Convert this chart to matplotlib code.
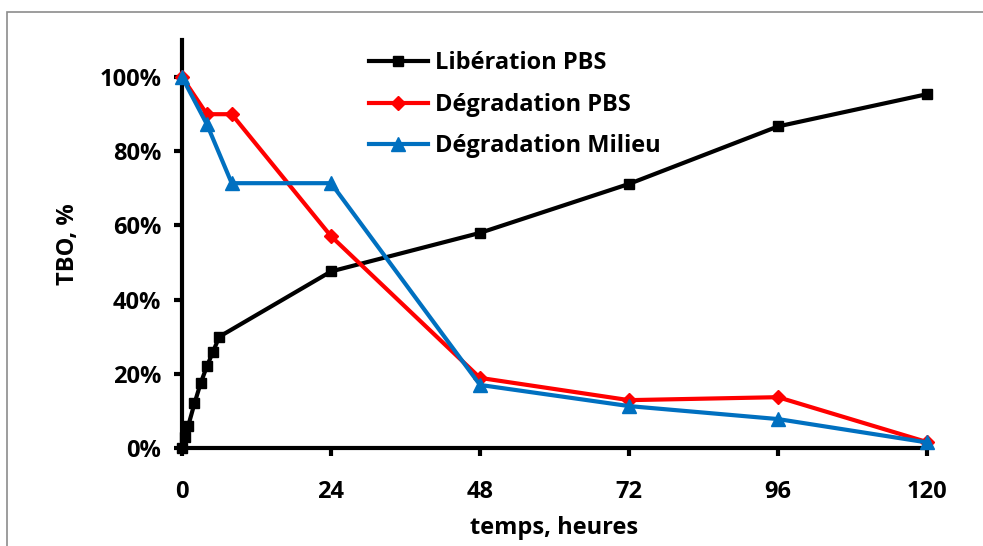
import matplotlib
matplotlib.use("Agg")
import matplotlib.pyplot as plt
from matplotlib.patches import Rectangle

# release kinetics (%), time in hours
t_lib = [0, 0.5, 1, 2, 3, 4, 5, 6, 24, 48, 72, 96, 120]
lib_pbs = [0, 3, 6, 12, 17.5, 22, 26, 30, 47.6, 58, 71.2, 86.7, 95.4]

t_deg = [0, 4, 8, 24, 48, 72, 96, 120]
deg_pbs = [100, 90, 90, 57.1, 18.9, 12.9, 13.7, 1.6]
deg_milieu = [100, 87.3, 71.4, 71.4, 17, 11.3, 7.8, 1.5]

x_ticks = [0, 24, 48, 72, 96, 120]
y_ticks = [0, 20, 40, 60, 80, 100]

plt.rcParams['font.family'] = ['Open Sans', 'DejaVu Sans']
plt.rcParams['font.weight'] = 'bold'

fig = plt.figure(figsize=(9.83, 5.46), dpi=100)
ax = fig.add_axes([0.1852, 0.1795, 0.943 - 0.1852, 0.9267 - 0.1795])

# thin grey frame around the whole chart
fig.patches.append(Rectangle((0.007, -0.1), 1.2, 0.1 + 1 - 12 / 546,
                             transform=fig.transFigure, fill=False,
                             edgecolor='#8c8c8c', linewidth=1.2))

ax.plot(t_lib, lib_pbs, color='black', lw=3, marker='s', ms=7.5,
        label='Libération PBS', clip_on=False, zorder=3)
ax.plot(t_deg, deg_pbs, color='#ff0000', lw=3, marker='D', ms=7,
        label='Dégradation PBS', clip_on=False, zorder=4)
ax.plot(t_deg, deg_milieu, color='#0070c0', lw=3, marker='^', ms=10,
        label='Dégradation Milieu', clip_on=False, zorder=5)

ax.set_xlim(0, 120)
ax.set_ylim(0, 110)
ax.set_xticks(x_ticks)
ax.set_yticks(y_ticks)
ax.set_yticklabels([f'{v}%' for v in y_ticks])

for side in ['top', 'right']:
    ax.spines[side].set_visible(False)
for side in ['left', 'bottom']:
    ax.spines[side].set_linewidth(3)
ax.tick_params(axis='both', direction='out', length=6, width=3,
               labelsize=17)
ax.tick_params(axis='x', pad=17)
ax.tick_params(axis='y', pad=9)
for lbl in ax.get_xticklabels() + ax.get_yticklabels():
    lbl.set_fontweight('bold')

ax.set_xlabel('temps, heures', fontsize=17, fontweight='bold', labelpad=9)
ax.set_ylabel('TBO, %', fontsize=17, fontweight='bold', labelpad=14)

leg = ax.legend(loc='upper left', bbox_to_anchor=(0.222, 1.025), frameon=False,
                handlelength=2.5, handletextpad=0.3,
                labelspacing=0.75, prop={'weight': 'bold', 'size': 17})

fig.savefig('out.png', dpi=100)
